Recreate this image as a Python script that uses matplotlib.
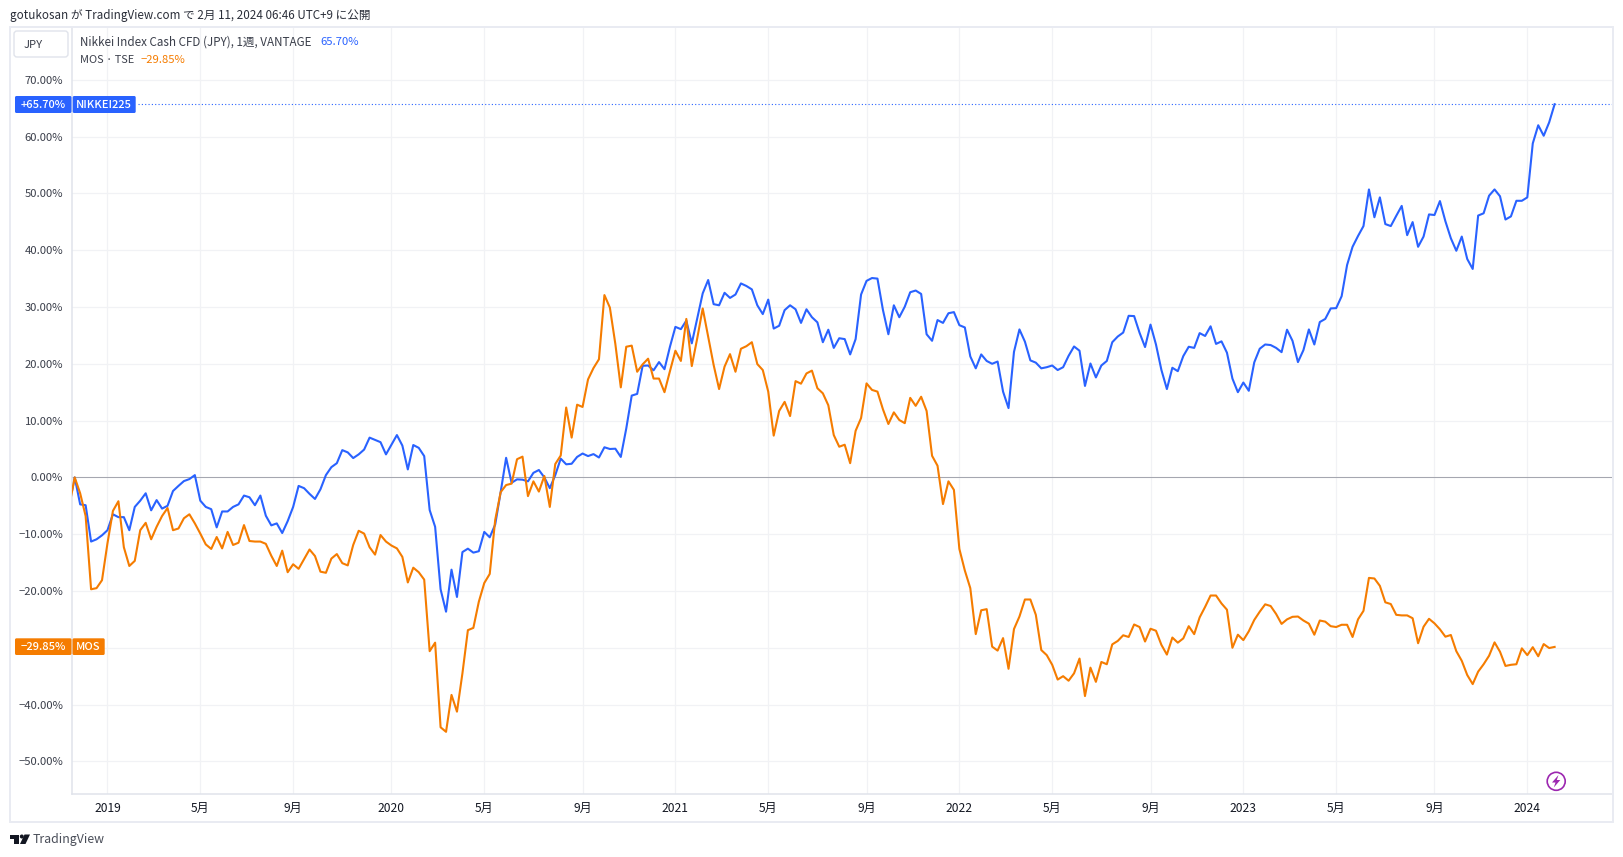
import numpy as np
import matplotlib
matplotlib.use("Agg")
import matplotlib.pyplot as plt
from matplotlib.patches import Rectangle, FancyBboxPatch, Circle, Polygon

plt.rcParams['font.family'] = ['Noto Sans CJK JP', 'DejaVu Sans']

# weekly closes as % change, first value sits just left of the axis
nikkei = [
    -5.0, 0.0, -4.75, -4.9, -11.3, -10.9, -10.2, -9.3, -6.5, -7.0, -7.0, -9.3, -5.2, -4.1, -2.8, -5.8,
    -4.0, -5.5, -5.0, -2.4, -1.5, -0.65, -0.3, 0.4, -4.1, -5.2, -5.6, -8.8, -6.0, -6.0, -5.2, -4.75,
    -3.2, -3.5, -4.9, -3.2, -6.75, -8.45, -8.1, -9.8, -7.7, -5.2, -1.5, -1.9, -2.9, -3.8, -2.1, 0.4,
    1.8, 2.5, 4.8, 4.4, 3.4, 4.05, 4.9, 7.0, 6.6, 6.2, 4.05, 5.75, 7.45, 5.6, 1.4, 5.7,
    5.2, 3.75, -5.75, -8.7, -19.7, -23.65, -16.25, -21.05, -13.15, -12.55, -13.25, -13.0, -9.6, -10.55, -8.3, -2.6,
    3.45, -0.95, -0.35, -0.4, -0.7, 0.8, 1.3, 0.0, -1.9, 0.4, 3.3, 2.3, 2.4, 3.6, 4.2, 3.75,
    4.1, 3.5, 5.3, 5.0, 5.05, 3.6, 8.6, 14.4, 14.7, 19.65, 19.7, 18.85, 20.3, 19.05, 23.0, 26.5,
    26.1, 27.6, 23.6, 28.0, 32.4, 34.75, 30.5, 30.3, 32.5, 31.6, 32.2, 34.15, 33.7, 33.1, 30.3, 28.75,
    31.3, 26.2, 26.7, 29.45, 30.3, 29.6, 27.2, 29.6, 28.2, 27.3, 23.8, 26.0, 22.8, 24.5, 24.35, 21.65,
    24.35, 32.2, 34.6, 35.1, 35.0, 29.5, 25.2, 30.3, 28.2, 30.05, 32.6, 32.9, 32.3, 25.2, 24.05, 27.7,
    27.2, 28.9, 29.1, 26.8, 26.4, 21.3, 19.2, 21.65, 20.5, 20.0, 20.4, 15.1, 12.2, 22.1, 26.05, 23.9,
    20.6, 20.2, 19.2, 19.4, 19.7, 18.9, 19.4, 21.4, 23.05, 22.3, 16.1, 20.05, 17.6, 19.7, 20.5, 23.8,
    24.8, 25.5, 28.45, 28.4, 25.45, 22.95, 26.9, 23.4, 18.9, 15.55, 19.3, 18.7, 21.35, 23.0, 22.8, 25.4,
    24.9, 26.6, 23.5, 23.95, 21.95, 17.4, 15.0, 16.7, 15.25, 20.25, 22.65, 23.4, 23.3, 22.8, 22.05, 26.0,
    24.05, 20.3, 22.4, 26.05, 23.4, 27.35, 27.9, 29.75, 29.8, 31.9, 37.4, 40.6, 42.5, 44.25, 50.7, 45.8,
    49.3, 44.6, 44.25, 46.05, 47.8, 42.65, 44.95, 40.6, 42.4, 46.3, 46.2, 48.65, 45.1, 42.1, 39.9, 42.4,
    38.45, 36.7, 46.1, 46.5, 49.6, 50.7, 49.5, 45.4, 45.95, 48.7, 48.7, 49.3, 58.8, 62.0, 60.15, 62.5,
    65.7,
]
mos = [
    -5.0, 0.0, -2.8, -6.8, -19.7, -19.5, -18.1, -11.6, -5.9, -4.2, -12.3, -15.6, -14.7, -9.3, -8.0, -10.9,
    -8.7, -6.8, -5.4, -9.3, -9.0, -7.2, -6.5, -8.1, -9.9, -11.8, -12.6, -10.5, -12.5, -9.6, -11.9, -11.5,
    -8.4, -11.2, -11.3, -11.3, -11.7, -13.8, -15.6, -12.9, -16.7, -15.3, -16.1, -14.4, -12.7, -13.85, -16.6, -16.8,
    -14.3, -13.5, -15.1, -15.5, -11.9, -9.4, -9.9, -12.3, -13.6, -10.15, -11.3, -12.0, -12.5, -14.0, -18.5, -15.9,
    -16.7, -18.0, -30.6, -29.1, -44.0, -44.8, -38.3, -41.25, -34.5, -26.9, -26.5, -21.9, -18.6, -17.0, -7.5, -2.6,
    -1.35, -1.1, 3.2, 3.65, -3.3, -0.7, -2.5, 0.25, -5.2, 2.35, 3.85, 12.3, 7.0, 12.8, 12.4, 17.25,
    19.25, 20.8, 32.1, 29.9, 23.5, 15.85, 23.0, 23.2, 18.6, 19.9, 20.9, 17.4, 17.4, 15.0, 18.7, 22.3,
    20.5, 27.9, 19.6, 24.5, 29.75, 24.8, 19.8, 15.55, 19.5, 21.7, 18.6, 22.65, 23.1, 23.8, 19.95, 18.9,
    15.1, 7.35, 11.7, 13.3, 10.8, 16.95, 16.5, 18.3, 18.8, 15.7, 14.8, 12.7, 7.45, 5.4, 5.75, 2.5,
    8.2, 10.45, 16.55, 15.4, 15.1, 12.0, 9.4, 11.45, 10.1, 9.55, 14.0, 12.6, 14.2, 11.7, 3.8, 2.05,
    -4.7, -0.7, -2.2, -12.6, -16.4, -19.5, -27.6, -23.4, -23.2, -29.8, -30.5, -28.3, -33.7, -26.7, -24.5, -21.5,
    -21.5, -24.2, -30.4, -31.3, -33.0, -35.6, -35.0, -35.8, -34.5, -31.9, -38.5, -33.5, -36.0, -32.5, -32.9, -29.4,
    -28.8, -27.8, -28.1, -25.9, -26.35, -28.9, -26.65, -27.0, -29.5, -31.2, -28.2, -29.1, -28.35, -26.2, -27.6, -24.65,
    -22.8, -20.8, -20.8, -22.2, -23.3, -30.0, -27.7, -28.65, -27.1, -25.1, -23.65, -22.35, -22.65, -24.05, -25.8, -25.0,
    -24.55, -24.5, -25.2, -25.75, -27.7, -25.2, -25.4, -26.2, -26.35, -25.95, -25.95, -28.1, -25.0, -23.5, -17.7, -17.8,
    -19.1, -22.0, -22.3, -24.2, -24.3, -24.3, -24.8, -29.2, -26.3, -24.9, -25.7, -26.75, -28.05, -27.75, -30.6, -32.3,
    -34.8, -36.4, -34.2, -32.9, -31.4, -29.05, -30.7, -33.2, -33.0, -32.9, -30.1, -31.3, -29.9, -31.5, -29.35, -30.05,
    -29.85,
]

x_ticks = [6, 23, 40, 58, 75, 93, 110, 127, 145, 162, 179, 197, 214, 231, 249, 266]
x_labels = ['2019', '5月', '9月', '2020', '5月', '9月', '2021', '5月', '9月',
            '2022', '5月', '9月', '2023', '5月', '9月', '2024']
y_ticks = [70, 60, 50, 40, 30, 20, 10, 0, -10, -20, -30, -40, -50]
y_labels = ['70.00%', '60.00%', '50.00%', '40.00%', '30.00%', '20.00%', '10.00%', '0.00%',
            '−10.00%', '−20.00%', '', '−40.00%', '−50.00%']

BLUE = '#2962FF'
ORANGE = '#F57C00'
GRID = '#F1F2F5'
BORDER = '#E0E3EB'
TEXT = '#3A3E4A'
W, H = 1623, 857

fig = plt.figure(figsize=(W / 100, H / 100), dpi=100, facecolor='white')

# plot area in pixels: x 71.7-1612.5, y 27-794.3
ax = fig.add_axes([71.7 / W, 1 - 794.3 / H, (1612.5 - 71.7) / W, (794.3 - 27) / H])
ax.set_xlim(-0.55, 281.6)
ax.set_ylim(-55.8, 79.3)
ax.set_xticks(x_ticks)
ax.set_xticklabels(x_labels, fontsize=8.7, color='#131722')
ax.set_yticks(y_ticks)
ax.set_yticklabels(y_labels, fontsize=8.1, color=TEXT, va='center_baseline')
ax.tick_params(axis='x', length=0, pad=5.3)
ax.tick_params(axis='y', length=0, pad=6)
ax.grid(True, color=GRID, linewidth=0.9)
ax.set_axisbelow(True)
for side in ['top', 'right']:
    ax.spines[side].set_visible(False)
for side in ['left', 'bottom']:
    ax.spines[side].set_color(BORDER)
    ax.spines[side].set_linewidth(1.1)

ax.axhline(0, color='#A5A7B0', linewidth=0.75, zorder=1.5)
ax.axhline(65.7, xmin=0.043, color=BLUE, linewidth=0.8, linestyle=(0, (1, 2)), zorder=1.5)

weeks = np.arange(len(nikkei)) - 1
ax.plot(weeks, mos, color=ORANGE, linewidth=1.5, solid_joinstyle='round', zorder=3)
ax.plot(weeks, nikkei, color=BLUE, linewidth=1.5, solid_joinstyle='round', zorder=2.5)

# everything around the chart is placed in pixels on a top layer
ui = fig.add_axes([0, 0, 1, 1], facecolor='none')
ui.set_xlim(0, W)
ui.set_ylim(H, 0)
ui.axis('off')

ui.add_patch(Rectangle((10, 26.5), 1603, 795, fill=False, edgecolor='#E9EBF2', linewidth=1.4))
ui.text(10, 15, 'gotukosan が TradingView.com で 2月 11, 2024 06:46 UTC+9 に公開',
        fontsize=8.4, color='#2A2E39', va='center', ha='left')

ui.add_patch(FancyBboxPatch((16, 33), 50, 22, boxstyle='round,pad=2,rounding_size=3',
                            facecolor='white', edgecolor=BORDER, linewidth=1.0))
ui.text(33, 44.5, 'JPY', fontsize=8.1, color=TEXT, va='center', ha='center')

ui.text(80, 42, 'Nikkei Index Cash CFD (JPY), 1週, VANTAGE', fontsize=8.4, color=TEXT, va='center', ha='left')
ui.text(320, 42, '65.70%', fontsize=8.1, color=BLUE, va='center', ha='left')
ui.text(80, 59.5, 'MOS · TSE', fontsize=7.9, color=TEXT, va='center', ha='left')
ui.text(141, 59.5, '−29.85%', fontsize=8.1, color=ORANGE, va='center', ha='left')


def add_tag(left, right, top, bottom, label, color):
    ui.add_patch(FancyBboxPatch((left + 1, top + 1), right - left - 2, bottom - top - 2,
                                boxstyle='round,pad=1,rounding_size=1.5',
                                facecolor=color, edgecolor='none'))
    ui.text((left + right) / 2, (top + bottom) / 2, label, fontsize=8.0, color='white',
            va='center', ha='center', fontweight='medium')


add_tag(15, 71.5, 96, 113, '+65.70%', BLUE)
add_tag(72.7, 135.7, 96, 113, 'NIKKEI225', BLUE)
add_tag(15, 71.5, 638.3, 655, '−29.85%', ORANGE)
add_tag(72.5, 104.7, 638.3, 655, 'MOS', ORANGE)

# lightning badge
ui.add_patch(Circle((1556.2, 781.3), 9, facecolor='white', edgecolor='#9C27B0', linewidth=1.2))
ui.add_patch(Polygon([(1558.5, 775), (1552, 782.5), (1555.5, 782.5), (1553.8, 787.5), (1560.3, 780), (1556.8, 780)],
                     facecolor='#9C27B0', edgecolor='none'))

# TradingView logo
ui.add_patch(Polygon([(10, 834.5), (19, 834.5), (19, 844), (14, 844), (14, 838.5), (10, 838.5)],
                     facecolor='#131722', edgecolor='none'))
ui.add_patch(Circle((21.8, 836.5), 2, facecolor='#131722', edgecolor='none'))
ui.add_patch(Polygon([(24.5, 834.5), (30, 834.5), (25.5, 844), (20, 844)], facecolor='#131722', edgecolor='none'))
ui.text(33, 840, 'TradingView', fontsize=8.9, color='#4A4E59', va='center', ha='left')

fig.savefig('out.png', dpi=100)
